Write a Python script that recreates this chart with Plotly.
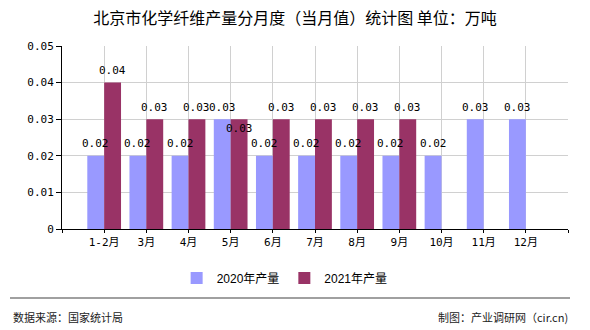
import plotly.graph_objects as go

# Monthly output (10k tonnes) of chemical fibres in Beijing
months = ["1-2月", "3月", "4月", "5月", "6月", "7月", "8月", "9月", "10月", "11月", "12月"]
output_2020 = [0.02, 0.02, 0.02, 0.03, 0.02, 0.02, 0.02, 0.02, 0.02, 0.03, 0.03]
output_2021 = [0.04, 0.03, 0.03, 0.03, 0.03, 0.03, 0.03, 0.03, None, None, None]
y_ticks = [0, 0.01, 0.02, 0.03, 0.04, 0.05]

color_2020 = "#9999FF"
color_2021 = "#993366"
num_font = "DejaVu Sans Mono, Noto Sans CJK SC"
cjk_font = "Noto Sans CJK SC"

pos = list(range(len(months)))
bargap = 0.2
half = (1 - bargap) / 4  # offset of each bar centre from its category centre

fig = go.Figure()
fig.add_trace(go.Bar(
    x=pos, y=output_2020, name="2020年产量",
    marker=dict(color=color_2020, line=dict(width=0)),
))
fig.add_trace(go.Bar(
    x=pos, y=output_2021, name="2021年产量",
    marker=dict(color=color_2021, line=dict(width=0)),
))

# value labels above each bar, drawn on top of all bars
for i, (a, b) in enumerate(zip(output_2020, output_2021)):
    for v, off, other in ((a, -half, b), (b, half, a)):
        if v is None:
            continue
        # when both bars of a month share the same height, the second label drops into its bar
        shift = -9 if (off > 0 and other is not None and other == v and v >= 0.03) else 12
        fig.add_annotation(
            x=i + off, y=v, text=f"{v:.2f}", showarrow=False,
            xanchor="center", yanchor="middle", yshift=shift,
            font=dict(family=num_font, size=11, color="black"),
        )

fig.update_layout(
    width=590, height=330,
    margin=dict(l=62, r=22, t=46, b=101),
    paper_bgcolor="white", plot_bgcolor="white",
    barmode="group", bargap=bargap, bargroupgap=0,
    title=dict(
        text="北京市化学纤维产量分月度（当月值）统计图 单位：万吨",
        x=0.5, xanchor="center", y=1 - 18 / 330, yanchor="middle",
        font=dict(family=cjk_font, size=16, color="black"),
    ),
    legend=dict(
        orientation="h", x=0.44, xanchor="center", y=-0.268, yanchor="middle",
        font=dict(family="Liberation Sans, " + cjk_font, size=12, color="black"),
        itemwidth=30, tracegroupgap=0,
    ),
    showlegend=True,
)

fig.update_xaxes(
    range=[-1, len(months)],
    tickmode="array",
    tickvals=list(range(-1, len(months) + 1)),
    ticktext=[""] + months + [""],
    showline=True, linecolor="black", linewidth=1,
    ticks="outside", ticklen=3, tickcolor="black",
    showgrid=True, gridcolor="#d0d0d0", gridwidth=1,
    zeroline=False,
    tickfont=dict(family=num_font, size=11, color="black"),
)
fig.update_yaxes(
    range=[0, 0.05],
    tickmode="array", tickvals=y_ticks,
    ticktext=["0" if v == 0 else f"{v:.2f}" for v in y_ticks],
    showline=True, linecolor="black", linewidth=1,
    ticks="outside", ticklen=5, tickcolor="black",
    showgrid=True, gridcolor="#d0d0d0", gridwidth=1,
    zeroline=False,
    tickfont=dict(family=num_font, size=11, color="black"),
)

# footer rule and source notes
fig.add_shape(
    type="line", xref="paper", yref="paper",
    x0=(10 - 62) / 506, x1=(570 - 62) / 506, y0=-0.377, y1=-0.377,
    line=dict(color="#808080", width=1.5),
)
fig.add_annotation(
    text="数据来源：国家统计局", xref="paper", yref="paper",
    x=(11 - 62) / 506, xanchor="left", y=-0.481, yanchor="middle",
    showarrow=False, font=dict(family=cjk_font, size=11, color="#222"),
)
fig.add_annotation(
    text="制图：产业调研网（cir.cn)", xref="paper", yref="paper",
    x=(570 - 62) / 506, xanchor="right", y=-0.481, yanchor="middle",
    showarrow=False, font=dict(family=cjk_font, size=11, color="#222"),
)

fig.write_html("out.html")
